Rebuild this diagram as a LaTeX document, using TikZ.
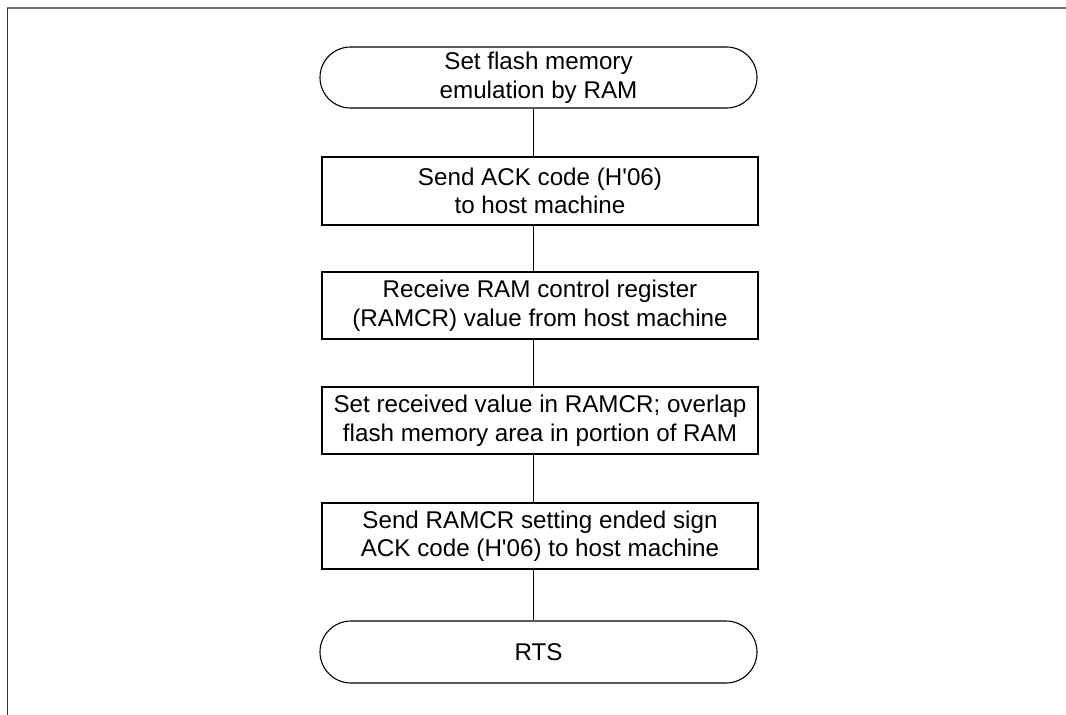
\documentclass[tikz,border=0pt]{standalone}
\usepackage{fontspec}
\setmainfont{Liberation Sans}[Ligatures=TeXOff]
\usetikzlibrary{shapes.misc}
\begin{document}
\begin{tikzpicture}[x=1pt,y=-1pt,
  every node/.style={font=\fontsize{24.2}{28.5}\selectfont, align=center, inner sep=0pt},
  stepbox/.style={draw=black, line width=1.1pt, rectangle, minimum width=436pt, minimum height=67pt},
  termbox/.style={draw=black, line width=1.1pt, rounded rectangle, minimum width=437pt, minimum height=61pt},
  conn/.style={draw=black, line width=1pt}]
\useasboundingbox (0,0) rectangle (1066,715);
\draw[draw=black!55, line width=1.6pt] (7,8) -- (1066,8);
\draw[black!80, line width=1pt] (7,8) -- (7,715);

\node[termbox] (t1) at (538.5,77.5) {Set flash memory\\emulation by RAM};
\node[stepbox, minimum height=68pt] (b1) at (540,191) {Send ACK code (H'06)\\to host machine};
\node[stepbox] (b2) at (540,305.5) {Receive RAM control register\\(RAMCR) value from host machine};
\node[stepbox] (b3) at (540,420.5) {Set received value in RAMCR; overlap\\flash memory area in portion of RAM};
\node[stepbox, minimum height=66pt] (b4) at (540,536) {Send RAMCR setting ended sign\\ACK code (H'06) to host machine};
\node[termbox, minimum height=62pt] (t2) at (538.5,652) {RTS};

\draw[conn] ([xshift=-5.5pt]t1.south) -- ([xshift=-7pt]b1.north);
\draw[conn] ([xshift=-7pt]b1.south) -- ([xshift=-7pt]b2.north);
\draw[conn] ([xshift=-7pt]b2.south) -- ([xshift=-7pt]b3.north);
\draw[conn] ([xshift=-7pt]b3.south) -- ([xshift=-7pt]b4.north);
\draw[conn] ([xshift=-7pt]b4.south) -- ([xshift=-5.5pt]t2.north);
\end{tikzpicture}
\end{document}
